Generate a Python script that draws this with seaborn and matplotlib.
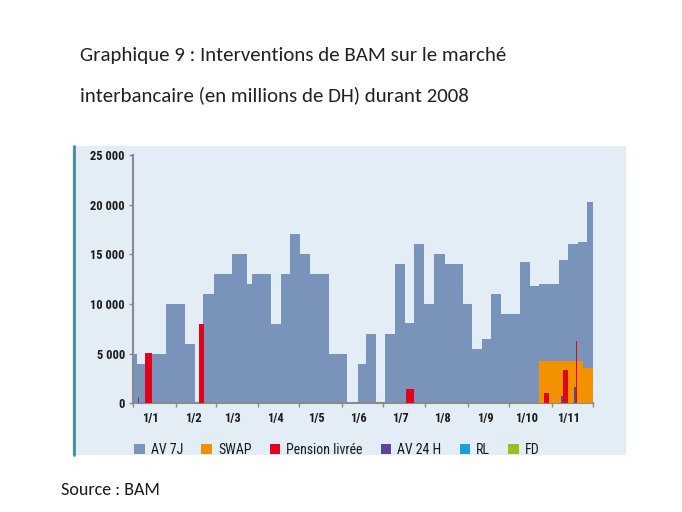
import matplotlib
matplotlib.use("Agg")
import matplotlib.pyplot as plt
import matplotlib.font_manager as fm
from matplotlib.patches import Patch, Rectangle
import seaborn as sns
import numpy as np

# ---------------- data (days counted from 1 Jan 2008) ----------------
mois_labels = ["1/1", "1/2", "1/3", "1/4", "1/5", "1/6", "1/7", "1/8", "1/9", "1/10", "1/11"]
mois_jours = [31, 29, 31, 30, 31, 30, 31, 31, 30, 31, 30]

# AV 7J : period boundaries (days) and amounts (millions DH)
av7j_bornes = [0, 2.5, 8.5, 24, 38, 45, 51, 59, 72, 83, 86.5, 100.5, 107.5, 114.5, 121.5,
               129, 142.5, 156, 163.5, 170, 177, 183.5, 191, 198, 205, 212, 219, 227.5,
               240.5, 247, 254, 261, 268, 282, 289, 296, 310.5, 317, 324, 331, 335]
av7j_montants = [5000, 4000, 5000, 10000, 6000, 0, 11000, 13000, 15000, 12000, 13000, 8000,
                 13000, 17000, 15000, 13000, 5000, 0, 4000, 7000, 0, 7000, 14000, 8100,
                 16000, 10000, 15000, 14000, 10000, 5500, 6500, 11000, 9000, 14200, 11800,
                 12000, 14400, 16000, 16200, 20300]

# SWAP
swap_debut = [296, 328]
swap_fin = [328, 335]
swap_montants = [4260, 3520]

# Pension livrée
pension_debut = [8.6, 48.1, 198.7, 299.6, 313.6, 322.9]
pension_fin = [13.5, 51.6, 204.7, 303.2, 317.0, 323.9]
pension_montants = [5100, 8000, 1400, 1000, 3350, 6300]

# AV 24 H
av24_debut = [3.2, 312.0, 321.7]
av24_fin = [4.4, 315.1, 323.9]
av24_montants = [660, 735, 1600]

series_noms = ["AV 7J", "SWAP", "Pension livrée", "AV 24 H", "RL", "FD"]
series_couleurs = ["#7A93BA", "#F39200", "#E2001A", "#5A4897", "#1D9FDA", "#95C11F"]

# ---------------- style ----------------
sns.set_theme(style="white")
installed = {f.name for f in fm.fontManager.ttflist}


def fam(prefs):
    return [f for f in prefs if f in installed] + ["DejaVu Sans"]


cond_family = fam(["Roboto Condensed", "PT Sans Narrow", "Fira Sans Condensed"])
title_family = fam(["Carlito", "Lato", "Open Sans"])
plt.rcParams["font.family"] = cond_family

fig = plt.figure(figsize=(6.82, 5.12), dpi=100)
fig.patch.set_facecolor("white")

W, H = 682, 512
# panel background
fig.patches.append(Rectangle((72 / W, 1 - 455 / H), (626 - 72) / W, (455 - 146) / H,
                             transform=fig.transFigure, facecolor="#E3EDF5",
                             edgecolor="none", zorder=0))
fig.lines.append(plt.Line2D([73.5 / W, 73.5 / W], [1 - 455 / H, 1 - 146 / H],
                            transform=fig.transFigure, color="#3E8E9A", lw=2, zorder=1))

ax = fig.add_axes([133.3 / W, 1 - 403.3 / H, (592.7 - 133.3) / W, (403.3 - 155) / H])
ax.set_facecolor("none")
ax.set_zorder(2)


def draw_periods(debut, fin, montants, couleur, z):
    edges = sorted(set(debut) | set(fin))
    mids = [(s + e) / 2 for s, e in zip(debut, fin)]
    sns.histplot(x=mids, weights=montants, bins=edges, stat="count", element="bars",
                 color=couleur, alpha=1, edgecolor="none", linewidth=0, ax=ax, zorder=z)


draw_periods(av7j_bornes[:-1], av7j_bornes[1:], av7j_montants, series_couleurs[0], 2)
draw_periods(swap_debut, swap_fin, swap_montants, series_couleurs[1], 3)
draw_periods(av24_debut, av24_fin, av24_montants, series_couleurs[3], 4)
draw_periods(pension_debut, pension_fin, pension_montants, series_couleurs[2], 5)

ax.set_xlim(0, sum(mois_jours))
ax.set_ylim(0, 25000)
ax.set_xlabel("")
ax.set_ylabel("")

starts = np.concatenate([[0], np.cumsum(mois_jours)])
ax.set_xticks(starts)
ax.set_xticklabels([])
ax.set_xticks(starts[:-1] + 12.5, minor=True)
ax.set_xticklabels(mois_labels, minor=True)
ax.tick_params(axis="x", which="major", direction="out", length=3, width=1, color="#8A8A8A",
               bottom=True)
ax.tick_params(axis="x", which="minor", length=0, pad=6, labelsize=9, labelcolor="#1a1a1a")
for t in ax.get_xticklabels(minor=True):
    t.set_fontweight("bold")

yt = [0, 5000, 10000, 15000, 20000, 25000]
ax.set_yticks(yt)
ax.set_yticklabels([f"{v:,}".replace(",", " ") for v in yt])
ax.tick_params(axis="y", direction="out", length=3, width=1, color="#8A8A8A", left=True,
               labelsize=9, labelcolor="#1a1a1a", pad=3)
for t in ax.get_yticklabels():
    t.set_fontweight("bold")

for s in ["top", "right"]:
    ax.spines[s].set_visible(False)
for s in ["left", "bottom"]:
    ax.spines[s].set_color("#8A8A8A")
    ax.spines[s].set_linewidth(1.5)
ax.grid(False)

handles = [Patch(facecolor=c, edgecolor="none") for c in series_couleurs]
fig.legend(handles, series_noms, loc="center", bbox_to_anchor=(337 / W, 1 - 450 / H),
           ncol=6, frameon=False, fontsize=10, handlelength=0.75, handleheight=0.75,
           handletextpad=0.45, columnspacing=1.3, labelcolor="#1a1a1a")

fig.text(80 / W, 1 - 56 / H, "Graphique 9 : Interventions de BAM sur le marché",
         fontsize=15, color="#222222", family=title_family, va="center", ha="left")
fig.text(80 / W, 1 - 95 / H, "interbancaire (en millions de DH) durant 2008",
         fontsize=15, color="#222222", family=title_family, va="center", ha="left")
fig.text(61 / W, 1 - 490 / H, "Source : BAM", fontsize=13, color="#1a1a1a",
         family=title_family, va="center", ha="left")

fig.savefig("out.png", dpi=100, facecolor="white")
